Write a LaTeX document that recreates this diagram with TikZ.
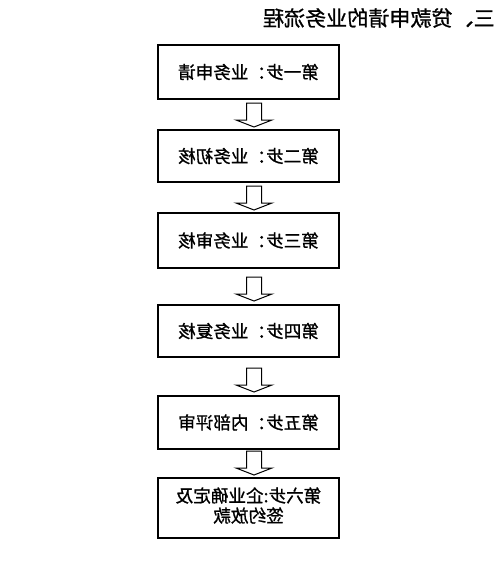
\documentclass[tikz,border=0pt]{standalone}
\usepackage{fontspec}
\usepackage{graphicx}
\setmainfont{Noto Sans CJK SC}
\newfontfamily\cjk[FakeBold=1]{Noto Sans CJK SC}
\begin{document}
\begin{tikzpicture}[x=0.75pt,y=-0.75pt,
  stepbox/.style={draw=black,line width=0.9pt,minimum width=135.75pt,inner sep=0pt,
    font=\cjk\fontsize{13.2}{16}\selectfont,align=center},
  titletext/.style={inner sep=0pt,font=\cjk\fontsize{15.8}{18}\selectfont},
  hollowarrow/.pic={\draw[line width=0.75pt,fill=white] (-7.5,-24) -- (7.5,-24) -- (7.5,-7) -- (18,-7) -- (0,0) -- (-18,-7) -- (-7.5,-7) -- cycle;}]
\useasboundingbox (0,0) rectangle (503,561);
\fill[white] (0,0) rectangle (503,561);
\node[titletext,anchor=east] (title) at (495,18) {\reflectbox{三、贷款申请的业务流程}};
\node[stepbox,minimum height=40.5pt] (s1) at (248.5,72) {\reflectbox{第一步：业务申请}};
\node[stepbox,minimum height=39pt] (s2) at (248.5,156) {\reflectbox{第二步：业务初核}};
\node[stepbox,minimum height=41.25pt] (s3) at (248.5,240.5) {\reflectbox{第三步：业务审核}};
\node[stepbox,minimum height=39pt] (s4) at (248.5,331) {\reflectbox{第四步：业务复核}};
\node[stepbox,minimum height=39.75pt] (s5) at (248.5,422.5) {\reflectbox{第五步：内部评审}};
\node[stepbox,minimum height=45pt] (s6) at (248.5,508) {\reflectbox{\begin{tabular}{@{}c@{}}第六步:企业确定及\\[-1pt]签约放款\end{tabular}}};
\coordinate (a1) at (254,127);
\coordinate (a2) at (254,210);
\coordinate (a3) at (254,301);
\coordinate (a4) at (254,392);
\coordinate (a5) at (254,475);
\pic at (a1) {hollowarrow};
\pic at (a2) {hollowarrow};
\pic at (a3) {hollowarrow};
\pic at (a4) {hollowarrow};
\pic at (a5) {hollowarrow};
\end{tikzpicture}
\end{document}
